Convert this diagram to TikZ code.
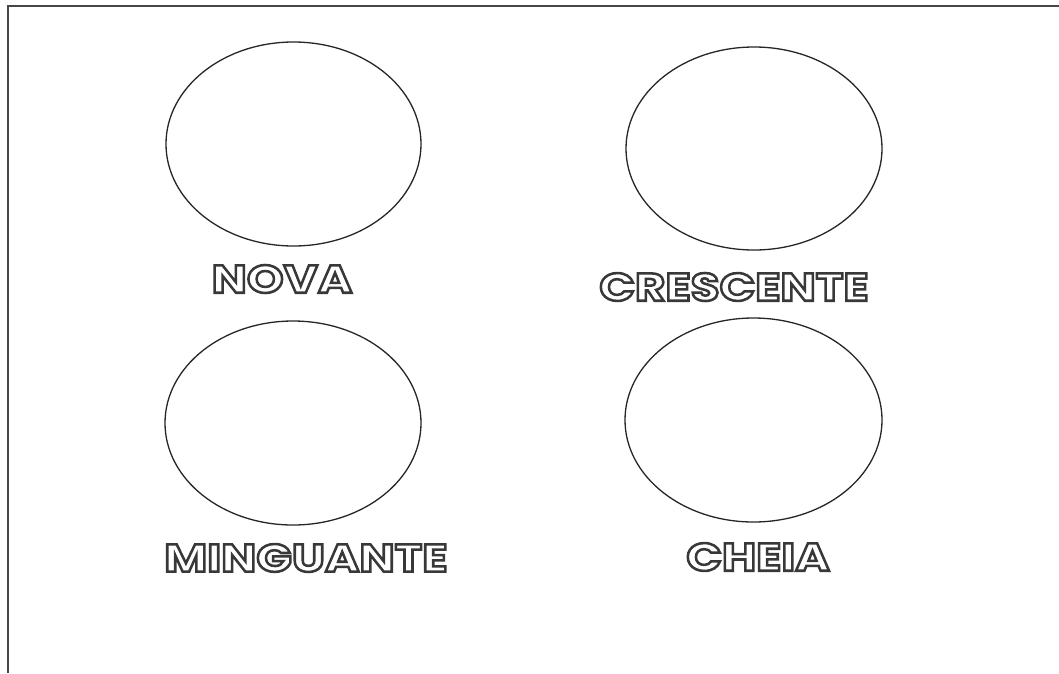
\documentclass[tikz,border=0pt]{standalone}
\usepackage{fontspec}
\newfontfamily\laboutfont{Poppins}[FakeStretch=1.2, FakeBold=6.5]
\newcommand\outlined[1]{\special{pdf:bcolor [1] [0.22]}#1\special{pdf:ecolor}}
\usetikzlibrary{shapes.geometric}
\tikzset{
  moon/.style={ellipse, draw=black!85, line width=1.3pt, inner sep=0pt},
  labout/.style={font=\laboutfont\bfseries\fontsize{39}{39}\selectfont, inner sep=0pt, anchor=center},
  frameline/.style={draw=black!72, line width=2pt}
}
\begin{document}
\begin{tikzpicture}[x=1pt,y=-1pt]
\useasboundingbox (0,0) rectangle (1059,673);
\fill[white] (0,0) rectangle (1059,673);
% frame (top and left only)
\coordinate (tl) at (8,6);
\coordinate (tr) at (1059,6);
\coordinate (bl) at (8,673);
\draw[frameline] (bl) -- (tl) -- (tr);
% ellipses
\node[moon, minimum width=255pt, minimum height=204pt] (enova) at (293.5,144) {};
\node[moon, minimum width=256pt, minimum height=203pt] (ecresc) at (754,148.5) {};
\node[moon, minimum width=256pt, minimum height=204pt] (eming) at (293,423) {};
\node[moon, minimum width=257pt, minimum height=204pt] (echeia) at (753.5,420) {};
% outlined labels
\node[labout] (nova) at (282,279) {\outlined{NOVA}};
\node[labout] (cresc) at (734,287) {\outlined{CRESCENTE}};
\node[labout] (ming) at (306,558) {\outlined{MINGUANTE}};
\node[labout] (cheia) at (758,557) {\outlined{CHEIA}};
\end{tikzpicture}
\end{document}
